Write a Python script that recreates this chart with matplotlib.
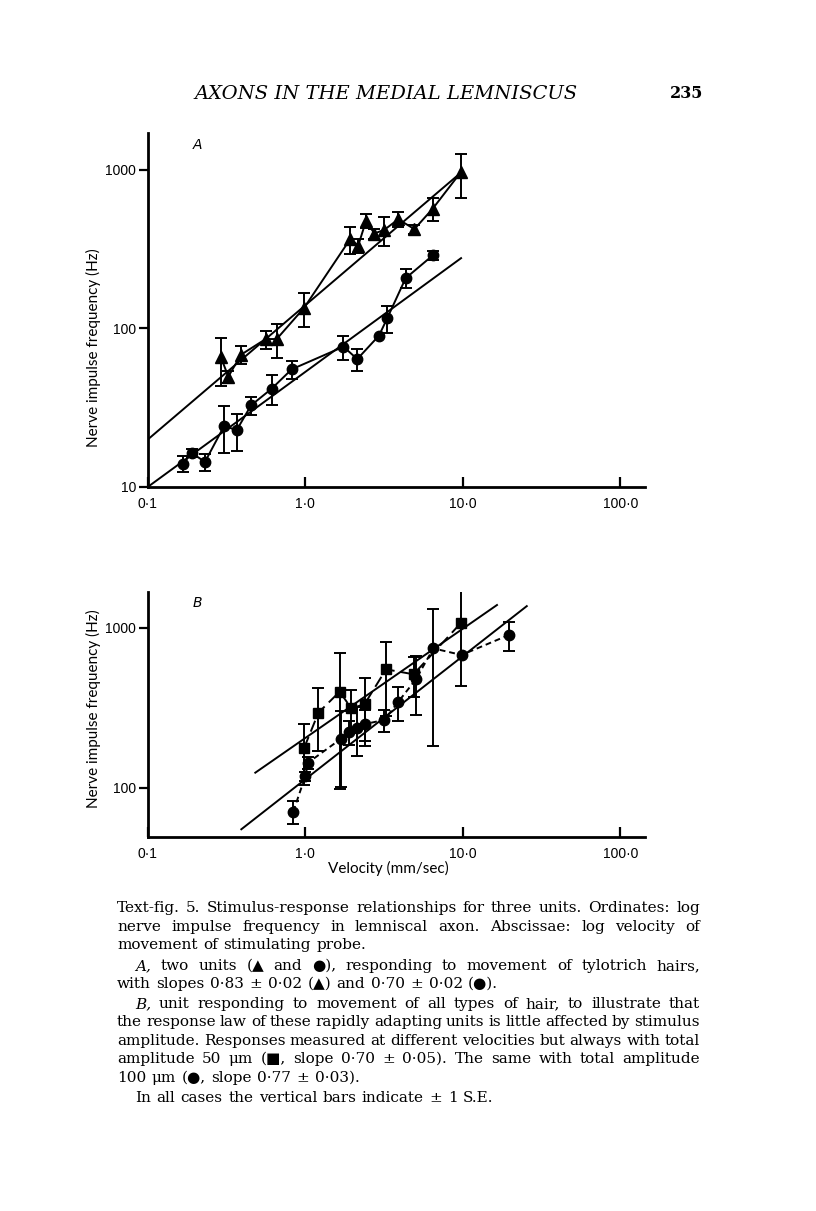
import numpy as np
import matplotlib
matplotlib.use("Agg")
import matplotlib.pyplot as plt

# ---- Panel A: two units, tylotrich hairs ----
triV = [0.292, 0.325, 0.391, 0.561, 0.659, 0.983, 1.93, 2.17, 2.43, 2.75, 3.18, 3.90, 4.93, 6.45, 9.7]
triF = [65.5, 49.6, 68.2, 85.6, 85.6, 134.5, 365, 332, 475, 396, 418, 487, 422, 568, 961]
triSE = [22, 4.5, 9, 11, 21, 33, 70, 34, 47, 29, 87, 52, 27, 95, 300]

circV = [0.168, 0.190, 0.231, 0.306, 0.367, 0.453, 0.613, 0.821, 1.75, 2.14, 2.94, 3.32, 4.34, 6.50]
circF = [14.0, 16.4, 14.4, 24.3, 22.8, 32.7, 41.7, 55.2, 76.6, 64, 90, 116, 207, 290]
circSE = [1.6, 1.0, 1.7, 8, 6, 4.3, 9, 7, 13, 10, 0, 23, 28, 19]

# regression lines (end points)
fitTriV = [0.1, 9.4]
fitTriF = [19.9, 930]
fitCircV = [0.1, 9.76]
fitCircF = [10, 277]

# ---- Panel B: one unit, two amplitudes ----
sqV = [0.985, 1.213, 1.655, 1.96, 2.38, 3.26, 4.87, 9.69]
sqF = [178, 295, 399, 314, 333, 550, 512, 1065]
sqSE = [73, 125, 300, 95, 150, 270, 140, 630]

dotV = [0.84, 1.0, 1.045, 1.68, 1.91, 2.14, 2.38, 3.18, 3.90, 5.04, 6.51, 9.83, 19.6]
dotF = [71.2, 118, 144, 202, 224, 238, 250, 266, 345, 476, 743, 676, 900]
dotSE = [12, 8, 12, 100, 38, 80, 55, 42, 83, 190, 560, 0, 180]

fitSqV = [0.482, 16.5]
fitSqF = [124.5, 1386]
fitDotV = [0.393, 25.5]
fitDotF = [55.2, 1364]

xTicks = [0.1, 1.0, 10.0, 100.0]
xTickLabels = ["0\u00b71", "1\u00b70", "10\u00b70", "100\u00b70"]

W, H = 816, 1211
LW = 1.4


def fx(px):
    return px / W


def fy(py):
    return 1 - py / H


def series(ax, v, f, se, marker, ms, ls, dashes=None):
    v, f, se = np.array(v), np.array(f), np.array(se)
    m = se > 0
    ax.errorbar(v[m], f[m], yerr=se[m], fmt="none", ecolor="k",
                elinewidth=LW, capsize=4.0, capthick=LW)
    line, = ax.plot(v, f, ls, color="k", lw=LW, marker=marker, ms=ms,
                    mfc="k", mec="k")
    if dashes is not None:
        line.set_dashes(dashes)


def setupAxes(ax, ylim, yticks, yticklabels):
    ax.set_xscale("log")
    ax.set_yscale("log")
    ax.set_xlim(0.1, 143.6)
    ax.set_ylim(*ylim)
    for s in ["top", "right"]:
        ax.spines[s].set_visible(False)
    for s in ["left", "bottom"]:
        ax.spines[s].set_linewidth(2.0)
    ax.minorticks_off()
    ax.set_xticks(xTicks)
    ax.set_xticklabels(xTickLabels)
    ax.set_yticks(yticks)
    ax.set_yticklabels(yticklabels)
    ax.tick_params(axis="x", direction="in", length=7, width=1.6, pad=7)
    ax.tick_params(axis="y", direction="out", length=6.5, width=1.6, pad=2)
    for lab in ax.get_xticklabels() + ax.get_yticklabels():
        lab.set_fontfamily("Liberation Sans")
        lab.set_fontsize(10)


fig = plt.figure(figsize=(W / 100, H / 100), dpi=100)

# panel A
axA = fig.add_axes([fx(147.7), fy(487), (645 - 147.7) / W, (487 - 133) / H])
axA.plot(fitTriV, fitTriF, "-", color="k", lw=LW)
axA.plot(fitCircV, fitCircF, "-", color="k", lw=LW)
series(axA, triV, triF, triSE, "^", 8, "-")
series(axA, circV, circF, circSE, "o", 7.5, "-")
setupAxes(axA, (10, 1703), [10, 100, 1000], ["10", "100", "1000"])
axA.text(0.09, 0.965, "A", transform=axA.transAxes, style="italic",
         fontsize=10, family="DejaVu Sans", va="center")

# panel B
axB = fig.add_axes([fx(147.7), fy(837), (645 - 147.7) / W, (837 - 592) / H])
axB.plot(fitSqV, fitSqF, "-", color="k", lw=LW)
axB.plot(fitDotV, fitDotF, "-", color="k", lw=LW)
series(axB, sqV, sqF, sqSE, "s", 7, "--", dashes=(6, 3))
series(axB, dotV, dotF, dotSE, "o", 7.5, "--", dashes=(3, 2))
setupAxes(axB, (49.4, 1671), [100, 1000], ["100", "1000"])
axB.text(0.09, 0.955, "B", transform=axB.transAxes, style="italic",
         fontsize=10, family="DejaVu Sans", va="center")

# axis labels
fig.text(fx(93), fy(348), "Nerve impulse frequency (Hz)", rotation=90,
         family="Lato", fontsize=11, ha="center", va="center")
fig.text(fx(93), fy(709), "Nerve impulse frequency (Hz)", rotation=90,
         family="Lato", fontsize=11, ha="center", va="center")
fig.text(fx(388), fy(868), "Velocity (mm/sec)", family="Lato", fontsize=11,
         ha="center", va="center")

# running head
fig.text(fx(386), fy(94), "AXONS IN THE MEDIAL LEMNISCUS", style="italic",
         family="DejaVu Serif", fontsize=14, ha="center", va="center")
fig.text(fx(687), fy(94), "235", family="DejaVu Serif", fontsize=11.5,
         weight="bold", ha="center", va="center")

# caption, set line by line (justified like the printed page)
capLines = [
    ("Text-fig. 5. Stimulus-response relationships for three units. Ordinates: log", 117, True),
    ("nerve impulse frequency in lemniscal axon. Abscissae: log velocity of", 117, True),
    ("movement of stimulating probe.", 117, False),
    ("A, two units (\u25b2 and \u25cf), responding to movement of tylotrich hairs,", 135, True),
    ("with slopes 0\u00b783 \u00b1 0\u00b702 (\u25b2) and 0\u00b770 \u00b1 0\u00b702 (\u25cf).", 117, False),
    ("B, unit responding to movement of all types of hair, to illustrate that", 135, True),
    ("the response law of these rapidly adapting units is little affected by stimulus", 117, True),
    ("amplitude. Responses measured at different velocities but always with total", 117, True),
    ("amplitude 50 \u03bcm (\u25a0, slope 0\u00b770 \u00b1 0\u00b705). The same with total amplitude", 117, True),
    ("100 \u03bcm (\u25cf, slope 0\u00b777 \u00b1 0\u00b703).", 117, False),
    ("In all cases the vertical bars indicate \u00b1 1 S.E.", 135, False),
]
capBase = [912, 931, 949, 970, 988, 1008, 1026, 1045, 1063, 1082, 1102]
capRight = 700

renderer = fig.canvas.get_renderer()
for (line, x0, just), yb in zip(capLines, capBase):
    words = line.split(" ")
    texts = []
    for w in words:
        st = "italic" if w in ("A,", "B,") else "normal"
        t = fig.text(0, fy(yb), w, family=["DejaVu Serif", "DejaVu Sans"],
                     fontsize=11, style=st, va="baseline", ha="left")
        texts.append(t)
    widths = [t.get_window_extent(renderer).width for t in texts]
    if just and len(words) > 1:
        gap = (capRight - x0 - sum(widths)) / (len(words) - 1)
    else:
        gap = 5.5
    x = x0
    for t, w in zip(texts, widths):
        t.set_x(fx(x))
        x += w + gap

fig.savefig("out.png", dpi=100, facecolor="white")
